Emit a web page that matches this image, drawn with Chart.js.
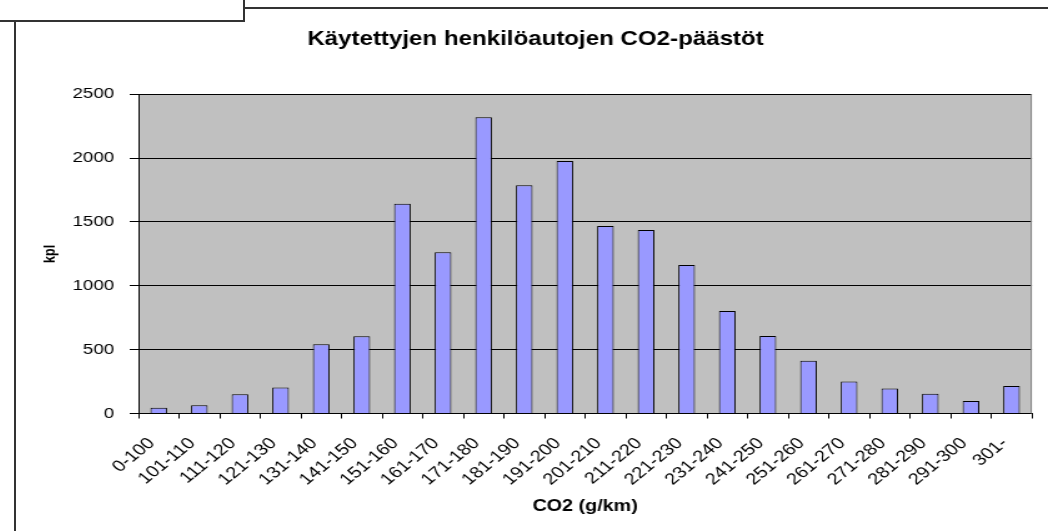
<!DOCTYPE html>
<html>
<head>
<meta charset="utf-8">
<script src="https://cdn.jsdelivr.net/npm/chart.js@4/dist/chart.umd.min.js"></script>
<style>
  html, body { margin: 0; padding: 0; background: #fff; }
  #wrap { position: relative; width: 1048px; height: 531px; overflow: hidden; }
  #frame { position: absolute; left: 14px; top: 7px; width: 1040px; height: 530px;
           border-top: 2px solid #333; border-left: 2px solid #333; }
  #corner { position: absolute; left: 0; top: 0; width: 245px; height: 22px; box-sizing: border-box;
            background: #fff; border-right: 2px solid #333; border-bottom: 2px solid #333; }
  /* the original picture is stretched sideways, so the canvas is too */
  #co2chart { position: absolute; left: -9.5px; top: 0; width: 1057.5px !important; height: 531px !important; }
</style>
</head>
<body>
<div id="wrap">
  <div id="frame"></div>
  <div id="corner"></div>
  <canvas id="co2chart" width="846" height="531"></canvas>
</div>
<script>
// CO2-luokat (g/km) ja autojen lukumäärät
const categories = ['0-100', '101-110', '111-120', '121-130', '131-140', '141-150',
    '151-160', '161-170', '171-180', '181-190', '191-200', '201-210', '211-220',
    '221-230', '231-240', '241-250', '251-260', '261-270', '271-280', '281-290',
    '291-300', '301-'];
const counts = [45, 65, 151, 204, 543, 604, 1642, 1262, 2320, 1787, 1978, 1469,
    1437, 1163, 803, 607, 413, 251, 196, 154, 97, 215];
const yMax = 2500;
const yStep = 500;

const plotArea = {
    id: 'plotArea',
    beforeDraw(chart) {
        const a = chart.chartArea;
        const ctx = chart.ctx;
        ctx.save();
        ctx.fillStyle = '#c0c0c0';
        ctx.fillRect(a.left, a.top, a.right - a.left, a.bottom - a.top);
        ctx.restore();
    },
    afterDraw(chart) {
        const a = chart.chartArea;
        const ctx = chart.ctx;
        ctx.save();
        ctx.strokeStyle = '#808080';
        ctx.lineWidth = 1;
        ctx.beginPath();
        ctx.moveTo(a.right - 0.5, a.top);
        ctx.lineTo(a.right - 0.5, a.bottom);
        ctx.stroke();
        ctx.restore();
    }
};

const font = 'Liberation Sans, Arial, sans-serif';

new Chart(document.getElementById('co2chart').getContext('2d'), {
    type: 'bar',
    data: {
        labels: categories,
        datasets: [{
            data: counts,
            backgroundColor: '#9999ff',
            borderColor: '#000000',
            borderWidth: 1,
            barPercentage: 0.41,
            categoryPercentage: 1
        }]
    },
    options: {
        responsive: false,
        animation: false,
        devicePixelRatio: 1,
        layout: { padding: { left: 30.4, right: 4.8, top: 0, bottom: 0 } },
        scales: {
            x: {
                offset: true,
                afterFit: s => { s.height = 117.5; },
                grid: { drawOnChartArea: false, drawTicks: true, tickLength: 5, color: '#000', offset: true },
                border: { color: '#000', width: 1 },
                ticks: {
                    color: '#000',
                    font: { family: font, size: 16 },
                    minRotation: 45,
                    maxRotation: 45,
                    autoSkip: false,
                    padding: 15.5,
                    labelOffset: -5.5
                },
                title: {
                    display: true,
                    text: 'CO2 (g/km)',
                    color: '#000',
                    font: { family: font, size: 15.8, weight: 'bold' },
                    padding: { top: 0, bottom: 14.5 }
                }
            },
            y: {
                min: 0,
                max: yMax,
                afterFit: s => { s.width = 87.6; },
                grid: { color: '#000', tickColor: '#000', tickLength: 7, lineWidth: 1 },
                border: { color: '#000', width: 1 },
                ticks: {
                    stepSize: yStep,
                    color: '#000',
                    font: { family: font, size: 15 },
                    padding: 12.4,
                    callback: v => String(v)
                },
                title: {
                    display: true,
                    text: 'kpl',
                    color: '#000',
                    font: { family: font, size: 12.5, weight: 'bold' },
                    padding: { top: 9.5, bottom: 0 }
                }
            }
        },
        plugins: {
            legend: { display: false },
            tooltip: { enabled: false },
            title: {
                display: true,
                text: 'Käytettyjen henkilöautojen CO2-päästöt',
                color: '#000',
                font: { family: font, size: 19.3, weight: 'bold' },
                padding: { top: 28.4, bottom: 42.7 }
            }
        }
    },
    plugins: [plotArea]
});
</script>
</body>
</html>
